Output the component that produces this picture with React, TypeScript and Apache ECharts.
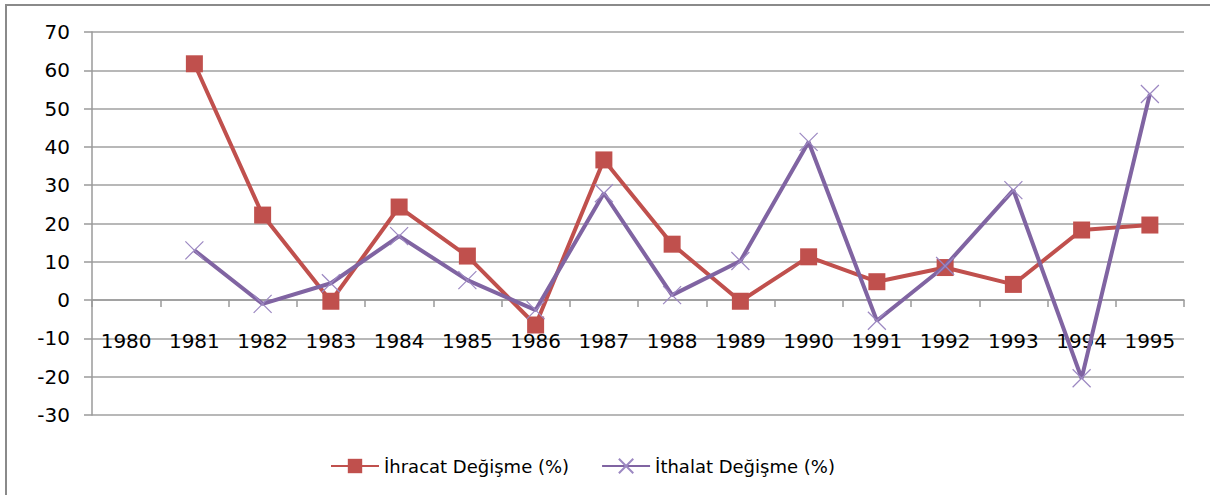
import React, { useEffect, useRef } from "react";
import * as echarts from "echarts";

const years = ["1980", "1981", "1982", "1983", "1984", "1985", "1986", "1987", "1988", "1989", "1990", "1991", "1992", "1993", "1994", "1995"];
const ihracat = [null, 61.7, 22.2, -0.3, 24.3, 11.5, -6.5, 36.6, 14.6, -0.3, 11.3, 4.8, 8.5, 4.1, 18.3, 19.6];
const ithalat = [null, 13.0, -1.0, 4.4, 16.7, 5.2, -2.6, 27.9, 1.3, 10.2, 41.3, -5.4, 8.9, 28.7, -20.4, 53.8];
const seriesNames = ["İhracat Değişme (%)", "İthalat Değişme (%)"];

const FONT = "DejaVu Sans";

export default function App() {
  const ref = useRef<HTMLDivElement>(null);
  useEffect(() => {
    if (!ref.current) return;
    const chart = echarts.init(ref.current, null, { renderer: "svg" });
    chart.setOption({
      animation: false,
      backgroundColor: "#ffffff",
      graphic: [
        {
          type: "rect",
          shape: { x: 6, y: 5, width: 1220, height: 510 },
          style: { fill: "none", stroke: "#8a8a8a", lineWidth: 2 },
          silent: true,
        },
      ],
      grid: { left: 92, right: 26, top: 32, bottom: 80 },
      legend: {
        left: 325,
        top: 452,
        itemWidth: 48,
        itemHeight: 18,
        itemGap: 32,
        textStyle: { fontFamily: FONT, fontSize: 18, color: "#000000" },
        data: seriesNames,
      },
      xAxis: [
        {
          type: "category",
          data: years,
          boundaryGap: true,
          axisLine: { onZero: true, lineStyle: { color: "#9a9a9a", width: 1.5 } },
          axisTick: { show: true, alignWithLabel: false, length: 7, lineStyle: { color: "#9a9a9a", width: 1.5 } },
          axisLabel: { show: false },
          splitLine: { show: false },
        },
        {
          type: "category",
          data: years,
          boundaryGap: true,
          position: "bottom",
          offset: -84,
          axisLine: { show: false },
          axisTick: { show: false },
          axisLabel: { fontFamily: FONT, fontSize: 20, color: "#000000", margin: 0, interval: 0 },
          splitLine: { show: false },
        },
      ],
      yAxis: {
        type: "value",
        min: -30,
        max: 70,
        interval: 10,
        axisLine: { show: true, lineStyle: { color: "#9a9a9a", width: 1.5 } },
        axisTick: { show: true, length: 8, lineStyle: { color: "#9a9a9a", width: 1.5 } },
        axisLabel: { fontFamily: FONT, fontSize: 20, color: "#000000", margin: 22 },
        splitLine: { show: true, lineStyle: { color: "#a0a0a0", width: 1.5 } },
      },
      series: [
        {
          name: seriesNames[0],
          type: "line",
          xAxisIndex: 0,
          data: ihracat,
          symbol: "rect",
          symbolSize: 17,
          showAllSymbol: true,
          lineStyle: { color: "#C0504D", width: 4 },
          itemStyle: { color: "#C0504D" },
          z: 2,
        },
        {
          name: seriesNames[1],
          type: "line",
          xAxisIndex: 0,
          data: ithalat,
          symbol: "path://M0,0L10,10M10,0L0,10",
          symbolSize: 18,
          showAllSymbol: true,
          lineStyle: { color: "#8064A2", width: 4 },
          itemStyle: { color: "#8064A2", borderColor: "#9c88c2", borderWidth: 1.2 },
          z: 3,
        },
      ],
    });
    return () => chart.dispose();
  }, []);
  return <div ref={ref} style={{ position: "fixed", left: 0, top: 0, width: 1210, height: 495 }} />;
}
